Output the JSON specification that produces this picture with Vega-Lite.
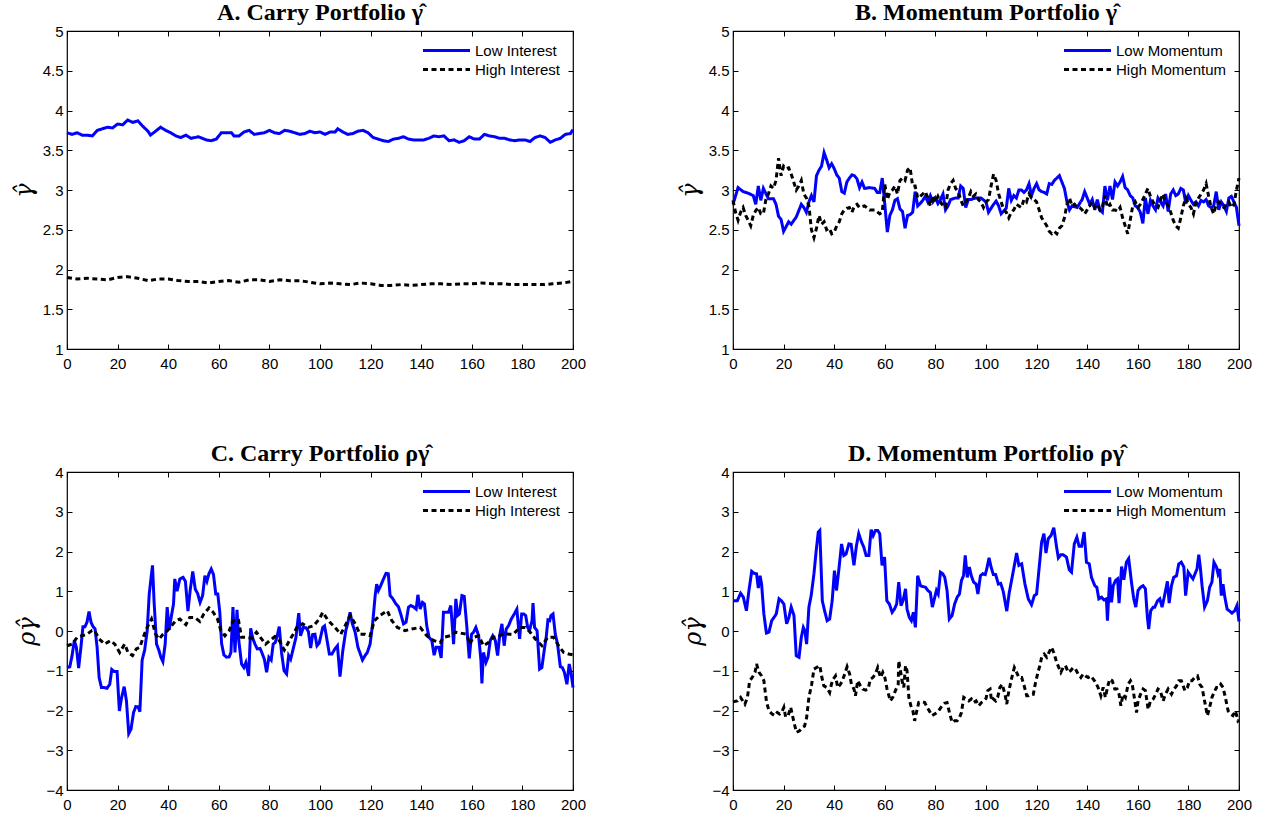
{
"$schema": "https://vega.github.io/schema/vega-lite/v6.json",
"background": "white",
"padding": {"left": 11, "top": 0, "right": 5, "bottom": 5},
"config": {
  "view": {"stroke": "black", "strokeWidth": 1.2},
  "axis": {"labelFont": "Liberation Sans", "labelFontSize": 15, "labelColor": "black", "tickColor": "black", "tickSize": -5, "tickWidth": 1, "domain": false, "grid": false, "labelFlush": false, "labelOverlap": false},
  "axisX": {"labelPadding": 12},
  "axisY": {"labelPadding": 9},
  "title": {"font": "Liberation Serif", "fontSize": 24, "fontWeight": "bold", "color": "black", "offset": -1, "anchor": "middle"},
  "legend": {"orient": "top-right", "offset": 12, "padding": 0, "labelFont": "Liberation Sans", "labelFontSize": 15, "labelColor": "black", "symbolType": "M-4.7,0L4.7,0", "symbolSize": 100, "symbolStrokeWidth": 3, "labelOffset": 21, "rowPadding": 3}
},
"columns": 2,
"spacing": {"row": 123, "column": 160},
"bounds": "flush",
"resolve": {"scale": {"color": "independent", "strokeDash": "independent"}, "legend": {"color": "independent", "strokeDash": "independent"}},
"datasets": {
"A": [
{"s":"L","x":0,"y":3.72},{"s":"L","x":2,"y":3.70},{"s":"L","x":4,"y":3.72},{"s":"L","x":6,"y":3.69},{"s":"L","x":8,"y":3.69},{"s":"L","x":10,"y":3.68},{"s":"L","x":12,"y":3.75},{"s":"L","x":14,"y":3.77},{"s":"L","x":16,"y":3.79},{"s":"L","x":18,"y":3.78},{"s":"L","x":20,"y":3.83},{"s":"L","x":22,"y":3.82},{"s":"L","x":24,"y":3.88},{"s":"L","x":26,"y":3.85},{"s":"L","x":28,"y":3.87},{"s":"L","x":30,"y":3.80},{"s":"L","x":32,"y":3.74},{"s":"L","x":33,"y":3.69},{"s":"L","x":35,"y":3.74},{"s":"L","x":37,"y":3.79},{"s":"L","x":39,"y":3.75},{"s":"L","x":41,"y":3.72},{"s":"L","x":43,"y":3.68},{"s":"L","x":45,"y":3.66},{"s":"L","x":47,"y":3.69},{"s":"L","x":49,"y":3.65},{"s":"L","x":52,"y":3.67},{"s":"L","x":55,"y":3.63},{"s":"L","x":57,"y":3.62},{"s":"L","x":59,"y":3.64},{"s":"L","x":61,"y":3.72},{"s":"L","x":63,"y":3.72},{"s":"L","x":65,"y":3.72},{"s":"L","x":66,"y":3.68},{"s":"L","x":68,"y":3.68},{"s":"L","x":70,"y":3.73},{"s":"L","x":72,"y":3.75},{"s":"L","x":74,"y":3.70},{"s":"L","x":76,"y":3.71},{"s":"L","x":78,"y":3.72},{"s":"L","x":80,"y":3.75},{"s":"L","x":82,"y":3.72},{"s":"L","x":84,"y":3.71},{"s":"L","x":86,"y":3.75},{"s":"L","x":88,"y":3.74},{"s":"L","x":90,"y":3.72},{"s":"L","x":92,"y":3.70},{"s":"L","x":94,"y":3.71},{"s":"L","x":96,"y":3.74},{"s":"L","x":98,"y":3.72},{"s":"L","x":100,"y":3.73},{"s":"L","x":102,"y":3.70},{"s":"L","x":104,"y":3.73},{"s":"L","x":106,"y":3.73},{"s":"L","x":107,"y":3.77},{"s":"L","x":109,"y":3.73},{"s":"L","x":111,"y":3.70},{"s":"L","x":113,"y":3.71},{"s":"L","x":115,"y":3.74},{"s":"L","x":117,"y":3.75},{"s":"L","x":119,"y":3.72},{"s":"L","x":121,"y":3.66},{"s":"L","x":123,"y":3.64},{"s":"L","x":125,"y":3.62},{"s":"L","x":127,"y":3.61},{"s":"L","x":129,"y":3.64},{"s":"L","x":131,"y":3.65},{"s":"L","x":133,"y":3.67},{"s":"L","x":135,"y":3.64},{"s":"L","x":137,"y":3.63},{"s":"L","x":139,"y":3.63},{"s":"L","x":141,"y":3.63},{"s":"L","x":143,"y":3.65},{"s":"L","x":145,"y":3.68},{"s":"L","x":147,"y":3.67},{"s":"L","x":149,"y":3.68},{"s":"L","x":151,"y":3.62},{"s":"L","x":153,"y":3.63},{"s":"L","x":155,"y":3.60},{"s":"L","x":157,"y":3.62},{"s":"L","x":159,"y":3.67},{"s":"L","x":161,"y":3.64},{"s":"L","x":163,"y":3.64},{"s":"L","x":165,"y":3.70},{"s":"L","x":167,"y":3.68},{"s":"L","x":169,"y":3.67},{"s":"L","x":171,"y":3.65},{"s":"L","x":173,"y":3.65},{"s":"L","x":175,"y":3.63},{"s":"L","x":177,"y":3.62},{"s":"L","x":179,"y":3.63},{"s":"L","x":181,"y":3.63},{"s":"L","x":183,"y":3.61},{"s":"L","x":185,"y":3.66},{"s":"L","x":187,"y":3.68},{"s":"L","x":189,"y":3.66},{"s":"L","x":191,"y":3.60},{"s":"L","x":193,"y":3.63},{"s":"L","x":195,"y":3.65},{"s":"L","x":197,"y":3.70},{"s":"L","x":199,"y":3.71},{"s":"L","x":200,"y":3.76},
{"s":"H","x":0,"y":1.90},{"s":"H","x":4,"y":1.88},{"s":"H","x":8,"y":1.89},{"s":"H","x":12,"y":1.88},{"s":"H","x":16,"y":1.87},{"s":"H","x":20,"y":1.90},{"s":"H","x":24,"y":1.91},{"s":"H","x":28,"y":1.89},{"s":"H","x":32,"y":1.86},{"s":"H","x":36,"y":1.88},{"s":"H","x":40,"y":1.88},{"s":"H","x":44,"y":1.86},{"s":"H","x":48,"y":1.85},{"s":"H","x":52,"y":1.85},{"s":"H","x":56,"y":1.83},{"s":"H","x":60,"y":1.85},{"s":"H","x":64,"y":1.86},{"s":"H","x":68,"y":1.84},{"s":"H","x":72,"y":1.87},{"s":"H","x":76,"y":1.87},{"s":"H","x":80,"y":1.85},{"s":"H","x":84,"y":1.87},{"s":"H","x":88,"y":1.86},{"s":"H","x":92,"y":1.86},{"s":"H","x":96,"y":1.84},{"s":"H","x":100,"y":1.82},{"s":"H","x":104,"y":1.83},{"s":"H","x":108,"y":1.82},{"s":"H","x":112,"y":1.81},{"s":"H","x":116,"y":1.83},{"s":"H","x":120,"y":1.82},{"s":"H","x":124,"y":1.80},{"s":"H","x":128,"y":1.80},{"s":"H","x":132,"y":1.81},{"s":"H","x":136,"y":1.80},{"s":"H","x":140,"y":1.81},{"s":"H","x":144,"y":1.82},{"s":"H","x":148,"y":1.82},{"s":"H","x":152,"y":1.81},{"s":"H","x":156,"y":1.82},{"s":"H","x":160,"y":1.82},{"s":"H","x":164,"y":1.83},{"s":"H","x":168,"y":1.82},{"s":"H","x":172,"y":1.82},{"s":"H","x":176,"y":1.81},{"s":"H","x":180,"y":1.81},{"s":"H","x":184,"y":1.81},{"s":"H","x":188,"y":1.81},{"s":"H","x":192,"y":1.82},{"s":"H","x":196,"y":1.83},{"s":"H","x":200,"y":1.85}
],
"B": [
{"s":"L","x":0,"y":2.82},{"s":"L","x":2,"y":3.03},{"s":"L","x":4,"y":2.98},{"s":"L","x":6,"y":2.96},{"s":"L","x":8,"y":2.93},{"s":"L","x":9,"y":2.82},{"s":"L","x":10,"y":3.05},{"s":"L","x":11,"y":2.87},{"s":"L","x":12,"y":3.02},{"s":"L","x":14,"y":2.89},{"s":"L","x":16,"y":2.89},{"s":"L","x":17,"y":2.82},{"s":"L","x":18,"y":2.67},{"s":"L","x":19,"y":2.63},{"s":"L","x":20,"y":2.48},{"s":"L","x":22,"y":2.60},{"s":"L","x":23,"y":2.57},{"s":"L","x":25,"y":2.66},{"s":"L","x":26,"y":2.74},{"s":"L","x":27,"y":2.82},{"s":"L","x":28,"y":2.78},{"s":"L","x":29,"y":2.72},{"s":"L","x":30,"y":2.85},{"s":"L","x":31,"y":2.93},{"s":"L","x":32,"y":2.85},{"s":"L","x":33,"y":3.18},{"s":"L","x":34,"y":3.25},{"s":"L","x":35,"y":3.30},{"s":"L","x":36,"y":3.47},{"s":"L","x":37,"y":3.38},{"s":"L","x":38,"y":3.28},{"s":"L","x":39,"y":3.33},{"s":"L","x":40,"y":3.27},{"s":"L","x":41,"y":3.19},{"s":"L","x":42,"y":3.15},{"s":"L","x":43,"y":2.98},{"s":"L","x":44,"y":2.96},{"s":"L","x":45,"y":3.10},{"s":"L","x":46,"y":3.15},{"s":"L","x":47,"y":3.19},{"s":"L","x":48,"y":3.18},{"s":"L","x":49,"y":3.14},{"s":"L","x":50,"y":3.03},{"s":"L","x":51,"y":3.10},{"s":"L","x":52,"y":3.02},{"s":"L","x":54,"y":3.03},{"s":"L","x":56,"y":3.02},{"s":"L","x":57,"y":2.97},{"s":"L","x":58,"y":2.97},{"s":"L","x":59,"y":3.15},{"s":"L","x":60,"y":2.82},{"s":"L","x":61,"y":2.47},{"s":"L","x":62,"y":2.68},{"s":"L","x":63,"y":2.75},{"s":"L","x":64,"y":2.87},{"s":"L","x":65,"y":2.89},{"s":"L","x":66,"y":2.76},{"s":"L","x":67,"y":2.73},{"s":"L","x":68,"y":2.52},{"s":"L","x":69,"y":2.68},{"s":"L","x":70,"y":2.69},{"s":"L","x":71,"y":2.72},{"s":"L","x":72,"y":2.98},{"s":"L","x":73,"y":2.80},{"s":"L","x":74,"y":2.83},{"s":"L","x":75,"y":2.87},{"s":"L","x":76,"y":2.92},{"s":"L","x":77,"y":2.85},{"s":"L","x":78,"y":2.93},{"s":"L","x":79,"y":2.85},{"s":"L","x":80,"y":2.90},{"s":"L","x":81,"y":2.83},{"s":"L","x":82,"y":2.88},{"s":"L","x":83,"y":2.95},{"s":"L","x":84,"y":2.75},{"s":"L","x":85,"y":2.80},{"s":"L","x":86,"y":2.88},{"s":"L","x":88,"y":2.90},{"s":"L","x":89,"y":2.90},{"s":"L","x":90,"y":3.05},{"s":"L","x":91,"y":3.02},{"s":"L","x":92,"y":2.78},{"s":"L","x":93,"y":2.88},{"s":"L","x":94,"y":2.88},{"s":"L","x":96,"y":2.90},{"s":"L","x":98,"y":2.90},{"s":"L","x":100,"y":2.85},{"s":"L","x":101,"y":2.72},{"s":"L","x":103,"y":2.82},{"s":"L","x":104,"y":2.86},{"s":"L","x":105,"y":2.80},{"s":"L","x":106,"y":2.70},{"s":"L","x":108,"y":2.77},{"s":"L","x":109,"y":3.02},{"s":"L","x":110,"y":2.87},{"s":"L","x":111,"y":2.93},{"s":"L","x":112,"y":2.90},{"s":"L","x":113,"y":3.00},{"s":"L","x":114,"y":3.00},{"s":"L","x":115,"y":2.97},{"s":"L","x":116,"y":3.00},{"s":"L","x":117,"y":3.08},{"s":"L","x":118,"y":2.93},{"s":"L","x":119,"y":3.02},{"s":"L","x":120,"y":3.08},{"s":"L","x":121,"y":3.00},{"s":"L","x":122,"y":2.98},{"s":"L","x":123,"y":2.97},{"s":"L","x":124,"y":2.95},{"s":"L","x":125,"y":3.08},{"s":"L","x":126,"y":3.07},{"s":"L","x":127,"y":3.12},{"s":"L","x":128,"y":3.15},{"s":"L","x":129,"y":3.18},{"s":"L","x":130,"y":3.10},{"s":"L","x":131,"y":3.02},{"s":"L","x":132,"y":2.85},{"s":"L","x":133,"y":2.75},{"s":"L","x":134,"y":2.80},{"s":"L","x":136,"y":2.78},{"s":"L","x":138,"y":2.88},{"s":"L","x":139,"y":2.98},{"s":"L","x":140,"y":2.90},{"s":"L","x":141,"y":2.82},{"s":"L","x":142,"y":2.88},{"s":"L","x":143,"y":2.75},{"s":"L","x":144,"y":2.88},{"s":"L","x":145,"y":2.75},{"s":"L","x":146,"y":2.72},{"s":"L","x":147,"y":3.05},{"s":"L","x":148,"y":2.87},{"s":"L","x":149,"y":3.05},{"s":"L","x":150,"y":2.88},{"s":"L","x":151,"y":3.10},{"s":"L","x":152,"y":3.05},{"s":"L","x":153,"y":3.10},{"s":"L","x":154,"y":3.17},{"s":"L","x":155,"y":3.03},{"s":"L","x":156,"y":3.00},{"s":"L","x":157,"y":2.93},{"s":"L","x":158,"y":2.90},{"s":"L","x":159,"y":2.80},{"s":"L","x":160,"y":2.78},{"s":"L","x":161,"y":2.72},{"s":"L","x":162,"y":2.58},{"s":"L","x":163,"y":2.90},{"s":"L","x":164,"y":2.70},{"s":"L","x":165,"y":2.87},{"s":"L","x":166,"y":2.80},{"s":"L","x":167,"y":2.75},{"s":"L","x":168,"y":2.90},{"s":"L","x":169,"y":2.85},{"s":"L","x":170,"y":2.80},{"s":"L","x":171,"y":2.95},{"s":"L","x":172,"y":2.73},{"s":"L","x":173,"y":2.95},{"s":"L","x":174,"y":3.00},{"s":"L","x":175,"y":2.93},{"s":"L","x":176,"y":2.95},{"s":"L","x":177,"y":3.02},{"s":"L","x":178,"y":3.00},{"s":"L","x":179,"y":2.83},{"s":"L","x":180,"y":2.93},{"s":"L","x":181,"y":2.87},{"s":"L","x":182,"y":2.82},{"s":"L","x":183,"y":2.85},{"s":"L","x":184,"y":2.80},{"s":"L","x":185,"y":2.87},{"s":"L","x":186,"y":2.85},{"s":"L","x":187,"y":2.88},{"s":"L","x":188,"y":2.80},{"s":"L","x":189,"y":2.78},{"s":"L","x":190,"y":2.80},{"s":"L","x":191,"y":2.98},{"s":"L","x":192,"y":2.75},{"s":"L","x":193,"y":2.85},{"s":"L","x":194,"y":2.80},{"s":"L","x":195,"y":2.73},{"s":"L","x":196,"y":2.90},{"s":"L","x":197,"y":2.92},{"s":"L","x":198,"y":2.85},{"s":"L","x":199,"y":2.78},{"s":"L","x":200,"y":2.55},
{"s":"H","x":0,"y":2.87},{"s":"H","x":1,"y":2.72},{"s":"H","x":2,"y":2.62},{"s":"H","x":3,"y":2.72},{"s":"H","x":4,"y":2.78},{"s":"H","x":5,"y":2.68},{"s":"H","x":6,"y":2.62},{"s":"H","x":7,"y":2.55},{"s":"H","x":8,"y":2.68},{"s":"H","x":9,"y":2.74},{"s":"H","x":10,"y":2.78},{"s":"H","x":11,"y":2.70},{"s":"H","x":12,"y":2.70},{"s":"H","x":13,"y":2.88},{"s":"H","x":14,"y":2.95},{"s":"H","x":15,"y":3.05},{"s":"H","x":16,"y":3.02},{"s":"H","x":17,"y":3.12},{"s":"H","x":18,"y":3.40},{"s":"H","x":19,"y":3.18},{"s":"H","x":20,"y":3.30},{"s":"H","x":21,"y":3.27},{"s":"H","x":22,"y":3.28},{"s":"H","x":23,"y":3.20},{"s":"H","x":24,"y":3.10},{"s":"H","x":25,"y":3.00},{"s":"H","x":26,"y":3.05},{"s":"H","x":27,"y":3.12},{"s":"H","x":28,"y":2.95},{"s":"H","x":29,"y":2.90},{"s":"H","x":30,"y":2.80},{"s":"H","x":31,"y":2.50},{"s":"H","x":32,"y":2.40},{"s":"H","x":33,"y":2.52},{"s":"H","x":34,"y":2.68},{"s":"H","x":35,"y":2.57},{"s":"H","x":36,"y":2.60},{"s":"H","x":37,"y":2.50},{"s":"H","x":38,"y":2.52},{"s":"H","x":39,"y":2.45},{"s":"H","x":40,"y":2.47},{"s":"H","x":41,"y":2.55},{"s":"H","x":42,"y":2.60},{"s":"H","x":43,"y":2.70},{"s":"H","x":44,"y":2.75},{"s":"H","x":45,"y":2.77},{"s":"H","x":46,"y":2.78},{"s":"H","x":47,"y":2.72},{"s":"H","x":48,"y":2.80},{"s":"H","x":49,"y":2.82},{"s":"H","x":50,"y":2.78},{"s":"H","x":52,"y":2.80},{"s":"H","x":54,"y":2.75},{"s":"H","x":56,"y":2.75},{"s":"H","x":58,"y":2.70},{"s":"H","x":59,"y":2.72},{"s":"H","x":60,"y":3.07},{"s":"H","x":61,"y":2.88},{"s":"H","x":62,"y":2.97},{"s":"H","x":63,"y":3.00},{"s":"H","x":64,"y":3.05},{"s":"H","x":65,"y":2.95},{"s":"H","x":66,"y":3.12},{"s":"H","x":67,"y":3.15},{"s":"H","x":68,"y":3.12},{"s":"H","x":69,"y":3.25},{"s":"H","x":70,"y":3.28},{"s":"H","x":71,"y":3.05},{"s":"H","x":72,"y":3.05},{"s":"H","x":73,"y":2.90},{"s":"H","x":74,"y":2.92},{"s":"H","x":75,"y":2.95},{"s":"H","x":76,"y":2.98},{"s":"H","x":77,"y":2.90},{"s":"H","x":78,"y":2.80},{"s":"H","x":79,"y":2.93},{"s":"H","x":80,"y":2.85},{"s":"H","x":81,"y":2.92},{"s":"H","x":82,"y":2.85},{"s":"H","x":83,"y":2.80},{"s":"H","x":84,"y":2.78},{"s":"H","x":85,"y":3.00},{"s":"H","x":86,"y":3.08},{"s":"H","x":87,"y":3.12},{"s":"H","x":88,"y":3.02},{"s":"H","x":89,"y":2.98},{"s":"H","x":90,"y":2.88},{"s":"H","x":91,"y":2.80},{"s":"H","x":92,"y":2.85},{"s":"H","x":93,"y":2.90},{"s":"H","x":94,"y":2.98},{"s":"H","x":95,"y":2.92},{"s":"H","x":96,"y":2.95},{"s":"H","x":97,"y":2.88},{"s":"H","x":98,"y":2.85},{"s":"H","x":99,"y":2.78},{"s":"H","x":100,"y":2.85},{"s":"H","x":101,"y":2.88},{"s":"H","x":102,"y":3.05},{"s":"H","x":103,"y":3.20},{"s":"H","x":104,"y":3.12},{"s":"H","x":105,"y":2.95},{"s":"H","x":106,"y":2.85},{"s":"H","x":107,"y":2.75},{"s":"H","x":108,"y":2.72},{"s":"H","x":109,"y":2.65},{"s":"H","x":110,"y":2.72},{"s":"H","x":111,"y":2.75},{"s":"H","x":112,"y":2.82},{"s":"H","x":113,"y":2.80},{"s":"H","x":114,"y":2.78},{"s":"H","x":115,"y":2.88},{"s":"H","x":116,"y":2.85},{"s":"H","x":117,"y":2.95},{"s":"H","x":118,"y":2.90},{"s":"H","x":119,"y":2.88},{"s":"H","x":120,"y":2.85},{"s":"H","x":121,"y":2.75},{"s":"H","x":122,"y":2.65},{"s":"H","x":123,"y":2.60},{"s":"H","x":124,"y":2.55},{"s":"H","x":125,"y":2.48},{"s":"H","x":126,"y":2.45},{"s":"H","x":127,"y":2.48},{"s":"H","x":128,"y":2.45},{"s":"H","x":129,"y":2.52},{"s":"H","x":130,"y":2.55},{"s":"H","x":131,"y":2.65},{"s":"H","x":132,"y":2.82},{"s":"H","x":133,"y":2.90},{"s":"H","x":134,"y":2.80},{"s":"H","x":135,"y":2.82},{"s":"H","x":136,"y":2.78},{"s":"H","x":137,"y":2.78},{"s":"H","x":138,"y":2.75},{"s":"H","x":139,"y":2.70},{"s":"H","x":140,"y":2.75},{"s":"H","x":141,"y":2.80},{"s":"H","x":142,"y":2.85},{"s":"H","x":143,"y":2.78},{"s":"H","x":144,"y":2.82},{"s":"H","x":145,"y":2.75},{"s":"H","x":146,"y":2.78},{"s":"H","x":147,"y":2.93},{"s":"H","x":148,"y":2.78},{"s":"H","x":149,"y":2.82},{"s":"H","x":150,"y":2.75},{"s":"H","x":151,"y":2.75},{"s":"H","x":152,"y":2.73},{"s":"H","x":153,"y":2.78},{"s":"H","x":154,"y":2.65},{"s":"H","x":155,"y":2.55},{"s":"H","x":156,"y":2.45},{"s":"H","x":157,"y":2.62},{"s":"H","x":158,"y":2.80},{"s":"H","x":159,"y":2.85},{"s":"H","x":160,"y":2.78},{"s":"H","x":161,"y":2.82},{"s":"H","x":162,"y":2.88},{"s":"H","x":163,"y":2.95},{"s":"H","x":164,"y":3.02},{"s":"H","x":165,"y":2.92},{"s":"H","x":166,"y":2.85},{"s":"H","x":167,"y":2.80},{"s":"H","x":168,"y":2.78},{"s":"H","x":169,"y":2.88},{"s":"H","x":170,"y":2.95},{"s":"H","x":171,"y":2.85},{"s":"H","x":172,"y":2.80},{"s":"H","x":173,"y":2.72},{"s":"H","x":174,"y":2.62},{"s":"H","x":175,"y":2.55},{"s":"H","x":176,"y":2.52},{"s":"H","x":177,"y":2.65},{"s":"H","x":178,"y":2.80},{"s":"H","x":179,"y":2.90},{"s":"H","x":180,"y":2.82},{"s":"H","x":181,"y":2.78},{"s":"H","x":182,"y":2.70},{"s":"H","x":183,"y":2.85},{"s":"H","x":184,"y":2.90},{"s":"H","x":185,"y":2.95},{"s":"H","x":186,"y":3.00},{"s":"H","x":187,"y":3.08},{"s":"H","x":188,"y":2.92},{"s":"H","x":189,"y":2.78},{"s":"H","x":190,"y":2.70},{"s":"H","x":191,"y":2.82},{"s":"H","x":192,"y":2.85},{"s":"H","x":193,"y":2.80},{"s":"H","x":194,"y":2.78},{"s":"H","x":195,"y":2.82},{"s":"H","x":196,"y":2.85},{"s":"H","x":197,"y":2.78},{"s":"H","x":198,"y":2.82},{"s":"H","x":199,"y":3.00},{"s":"H","x":200,"y":3.15}
],
"C": [
{"s":"L","x":0,"y":-0.92},{"s":"L","x":1.1,"y":-0.90},{"s":"L","x":2,"y":-0.62},{"s":"L","x":2.9,"y":-0.24},{"s":"L","x":3.7,"y":-0.41},{"s":"L","x":4.6,"y":-0.93},{"s":"L","x":5.5,"y":-0.41},{"s":"L","x":6.3,"y":0.11},{"s":"L","x":7.1,"y":0.11},{"s":"L","x":7.9,"y":0.22},{"s":"L","x":8.7,"y":0.49},{"s":"L","x":9.5,"y":0.22},{"s":"L","x":10.3,"y":0.11},{"s":"L","x":11.1,"y":0.05},{"s":"L","x":11.9,"y":-0.41},{"s":"L","x":12.7,"y":-1.17},{"s":"L","x":13.6,"y":-1.42},{"s":"L","x":14.6,"y":-1.42},{"s":"L","x":15.8,"y":-1.44},{"s":"L","x":16.9,"y":-1.34},{"s":"L","x":17.7,"y":-0.97},{"s":"L","x":18.6,"y":-1.02},{"s":"L","x":19.8,"y":-1.02},{"s":"L","x":20.7,"y":-2.01},{"s":"L","x":21.6,"y":-1.67},{"s":"L","x":22.6,"y":-1.40},{"s":"L","x":23.5,"y":-1.76},{"s":"L","x":24.4,"y":-2.58},{"s":"L","x":25.3,"y":-2.47},{"s":"L","x":26.3,"y":-2.05},{"s":"L","x":27.2,"y":-1.90},{"s":"L","x":28.1,"y":-1.91},{"s":"L","x":28.8,"y":-2.03},{"s":"L","x":29.7,"y":-0.73},{"s":"L","x":30.7,"y":-0.48},{"s":"L","x":31.7,"y":0.01},{"s":"L","x":32.5,"y":0.93},{"s":"L","x":33.1,"y":1.27},{"s":"L","x":33.8,"y":1.65},{"s":"L","x":34.4,"y":0.76},{"s":"L","x":35.4,"y":-0.33},{"s":"L","x":36.3,"y":-0.48},{"s":"L","x":37.1,"y":-0.66},{"s":"L","x":37.9,"y":-0.77},{"s":"L","x":38.8,"y":-0.33},{"s":"L","x":39.6,"y":0.60},{"s":"L","x":40.4,"y":0.03},{"s":"L","x":41.3,"y":0.39},{"s":"L","x":42.1,"y":0.68},{"s":"L","x":42.6,"y":1.31},{"s":"L","x":43.5,"y":1.00},{"s":"L","x":44.6,"y":1.31},{"s":"L","x":45.9,"y":1.35},{"s":"L","x":46.8,"y":1.25},{"s":"L","x":47.8,"y":0.50},{"s":"L","x":48.7,"y":1.03},{"s":"L","x":49.7,"y":1.50},{"s":"L","x":50.7,"y":1.05},{"s":"L","x":51.6,"y":0.95},{"s":"L","x":52.6,"y":0.72},{"s":"L","x":53.6,"y":0.89},{"s":"L","x":54.5,"y":1.39},{"s":"L","x":55.3,"y":1.25},{"s":"L","x":56.1,"y":1.44},{"s":"L","x":57.0,"y":1.56},{"s":"L","x":57.9,"y":1.42},{"s":"L","x":58.8,"y":0.93},{"s":"L","x":59.6,"y":0.93},{"s":"L","x":60.4,"y":0.47},{"s":"L","x":61.1,"y":-0.31},{"s":"L","x":62.0,"y":-0.60},{"s":"L","x":63.1,"y":-0.66},{"s":"L","x":64.1,"y":-0.65},{"s":"L","x":64.8,"y":-0.54},{"s":"L","x":65.6,"y":0.60},{"s":"L","x":66.4,"y":-0.54},{"s":"L","x":67.2,"y":0.53},{"s":"L","x":67.9,"y":-0.24},{"s":"L","x":69.0,"y":-0.83},{"s":"L","x":69.9,"y":-0.92},{"s":"L","x":70.7,"y":-0.79},{"s":"L","x":71.8,"y":-1.13},{"s":"L","x":72.6,"y":0.07},{"s":"L","x":73.4,"y":-0.18},{"s":"L","x":74.3,"y":-0.33},{"s":"L","x":75.2,"y":-0.45},{"s":"L","x":76.3,"y":-0.44},{"s":"L","x":77.0,"y":-0.54},{"s":"L","x":78.0,"y":-0.71},{"s":"L","x":78.9,"y":-1.04},{"s":"L","x":79.8,"y":-0.66},{"s":"L","x":80.7,"y":-0.73},{"s":"L","x":81.5,"y":-0.33},{"s":"L","x":82.3,"y":-0.29},{"s":"L","x":83.1,"y":-0.12},{"s":"L","x":83.9,"y":0.11},{"s":"L","x":84.8,"y":-0.54},{"s":"L","x":85.8,"y":-1.00},{"s":"L","x":86.8,"y":-1.08},{"s":"L","x":87.6,"y":-0.62},{"s":"L","x":88.4,"y":-0.71},{"s":"L","x":89.4,"y":-0.45},{"s":"L","x":90.5,"y":-0.16},{"s":"L","x":91.6,"y":0.45},{"s":"L","x":92.3,"y":-0.12},{"s":"L","x":93.4,"y":0.09},{"s":"L","x":94.5,"y":0.08},{"s":"L","x":95.4,"y":-0.01},{"s":"L","x":96.3,"y":-0.43},{"s":"L","x":97.1,"y":-0.09},{"s":"L","x":98.0,"y":-0.08},{"s":"L","x":98.8,"y":-0.37},{"s":"L","x":99.7,"y":-0.30},{"s":"L","x":101.1,"y":0.09},{"s":"L","x":101.8,"y":0.13},{"s":"L","x":102.6,"y":-0.16},{"s":"L","x":103.7,"y":-0.58},{"s":"L","x":104.7,"y":-0.58},{"s":"L","x":105.9,"y":-0.45},{"s":"L","x":106.9,"y":-0.37},{"s":"L","x":107.9,"y":-1.15},{"s":"L","x":109.0,"y":-0.50},{"s":"L","x":110.2,"y":0.01},{"s":"L","x":110.9,"y":0.18},{"s":"L","x":111.9,"y":0.47},{"s":"L","x":112.8,"y":0.18},{"s":"L","x":113.9,"y":-0.03},{"s":"L","x":115.0,"y":-0.41},{"s":"L","x":116.8,"y":-0.73},{"s":"L","x":117.8,"y":-0.62},{"s":"L","x":118.7,"y":-0.54},{"s":"L","x":119.8,"y":-0.33},{"s":"L","x":120.8,"y":0.18},{"s":"L","x":121.8,"y":0.89},{"s":"L","x":122.4,"y":1.18},{"s":"L","x":123.1,"y":1.02},{"s":"L","x":124.0,"y":1.14},{"s":"L","x":125.1,"y":1.31},{"s":"L","x":126.1,"y":1.45},{"s":"L","x":127.0,"y":1.44},{"s":"L","x":127.7,"y":0.89},{"s":"L","x":128.8,"y":0.81},{"s":"L","x":129.8,"y":0.70},{"s":"L","x":131.0,"y":0.61},{"s":"L","x":131.9,"y":0.43},{"s":"L","x":133.0,"y":0.18},{"s":"L","x":134.0,"y":0.22},{"s":"L","x":135.0,"y":0.60},{"s":"L","x":135.9,"y":0.64},{"s":"L","x":136.9,"y":0.61},{"s":"L","x":138.0,"y":0.55},{"s":"L","x":138.7,"y":0.91},{"s":"L","x":139.6,"y":0.55},{"s":"L","x":140.5,"y":0.72},{"s":"L","x":141.3,"y":0.68},{"s":"L","x":142.2,"y":0.13},{"s":"L","x":143.1,"y":-0.16},{"s":"L","x":144.2,"y":-0.24},{"s":"L","x":145.1,"y":-0.61},{"s":"L","x":145.9,"y":-0.41},{"s":"L","x":147.0,"y":-0.41},{"s":"L","x":147.9,"y":-0.68},{"s":"L","x":148.8,"y":0.47},{"s":"L","x":149.9,"y":0.47},{"s":"L","x":150.8,"y":0.47},{"s":"L","x":151.7,"y":0.64},{"s":"L","x":152.8,"y":-0.33},{"s":"L","x":153.7,"y":0.81},{"s":"L","x":154.4,"y":0.39},{"s":"L","x":155.1,"y":0.43},{"s":"L","x":156.1,"y":0.89},{"s":"L","x":157.0,"y":0.87},{"s":"L","x":158.0,"y":0.13},{"s":"L","x":159.0,"y":-0.69},{"s":"L","x":159.9,"y":-0.08},{"s":"L","x":160.7,"y":-0.03},{"s":"L","x":161.6,"y":0.09},{"s":"L","x":162.7,"y":-0.12},{"s":"L","x":163.6,"y":-0.73},{"s":"L","x":164.0,"y":-1.32},{"s":"L","x":164.6,"y":-0.54},{"s":"L","x":165.6,"y":-0.79},{"s":"L","x":166.4,"y":-0.66},{"s":"L","x":167.3,"y":-0.24},{"s":"L","x":168.3,"y":-0.12},{"s":"L","x":169.3,"y":-0.24},{"s":"L","x":170.2,"y":-0.62},{"s":"L","x":171.0,"y":-0.12},{"s":"L","x":171.9,"y":0.18},{"s":"L","x":172.8,"y":-0.37},{"s":"L","x":173.6,"y":0.05},{"s":"L","x":174.5,"y":0.13},{"s":"L","x":175.6,"y":0.30},{"s":"L","x":176.8,"y":0.43},{"s":"L","x":177.8,"y":0.55},{"s":"L","x":178.9,"y":-0.20},{"s":"L","x":179.7,"y":0.43},{"s":"L","x":180.5,"y":0.43},{"s":"L","x":181.3,"y":0.39},{"s":"L","x":182.1,"y":0.09},{"s":"L","x":182.8,"y":0.01},{"s":"L","x":183.8,"y":0.26},{"s":"L","x":184.2,"y":0.70},{"s":"L","x":184.8,"y":0.09},{"s":"L","x":185.8,"y":0.01},{"s":"L","x":186.8,"y":-0.96},{"s":"L","x":187.7,"y":-0.92},{"s":"L","x":188.7,"y":-0.45},{"s":"L","x":189.4,"y":-0.16},{"s":"L","x":190.1,"y":0.28},{"s":"L","x":190.8,"y":0.26},{"s":"L","x":191.3,"y":0.39},{"s":"L","x":192.1,"y":0.43},{"s":"L","x":193.0,"y":-0.08},{"s":"L","x":193.9,"y":-0.33},{"s":"L","x":195.0,"y":-0.90},{"s":"L","x":195.8,"y":-0.92},{"s":"L","x":196.6,"y":-1.04},{"s":"L","x":197.6,"y":-1.34},{"s":"L","x":198.5,"y":-0.83},{"s":"L","x":199.3,"y":-1.08},{"s":"L","x":200,"y":-1.42},
{"s":"H","x":0,"y":-0.37},{"s":"H","x":2,"y":-0.33},{"s":"H","x":4,"y":-0.16},{"s":"H","x":5.9,"y":-0.12},{"s":"H","x":7.9,"y":-0.08},{"s":"H","x":9.9,"y":0.01},{"s":"H","x":10.9,"y":0.01},{"s":"H","x":12.7,"y":-0.20},{"s":"H","x":14.9,"y":-0.33},{"s":"H","x":17.2,"y":-0.24},{"s":"H","x":18.9,"y":-0.33},{"s":"H","x":20.8,"y":-0.54},{"s":"H","x":22.8,"y":-0.33},{"s":"H","x":24.1,"y":-0.54},{"s":"H","x":25.9,"y":-0.62},{"s":"H","x":27.4,"y":-0.45},{"s":"H","x":28.8,"y":-0.41},{"s":"H","x":30.1,"y":-0.16},{"s":"H","x":31.7,"y":0.09},{"s":"H","x":33.4,"y":0.30},{"s":"H","x":35.0,"y":-0.08},{"s":"H","x":36.4,"y":-0.20},{"s":"H","x":38.0,"y":-0.08},{"s":"H","x":39.7,"y":0.01},{"s":"H","x":41.3,"y":0.13},{"s":"H","x":43.0,"y":0.26},{"s":"H","x":44.6,"y":0.30},{"s":"H","x":47.0,"y":0.16},{"s":"H","x":48.5,"y":0.34},{"s":"H","x":50.5,"y":0.34},{"s":"H","x":52.5,"y":0.24},{"s":"H","x":54.1,"y":0.43},{"s":"H","x":56.1,"y":0.58},{"s":"H","x":57.8,"y":0.47},{"s":"H","x":59.5,"y":0.30},{"s":"H","x":60.8,"y":0.01},{"s":"H","x":62.4,"y":-0.12},{"s":"H","x":64.1,"y":0.01},{"s":"H","x":65.7,"y":0.26},{"s":"H","x":67.7,"y":0.30},{"s":"H","x":69.0,"y":-0.16},{"s":"H","x":71.0,"y":-0.16},{"s":"H","x":73.0,"y":-0.18},{"s":"H","x":74.9,"y":-0.03},{"s":"H","x":76.9,"y":-0.20},{"s":"H","x":78.5,"y":-0.33},{"s":"H","x":80.2,"y":-0.24},{"s":"H","x":82.2,"y":-0.14},{"s":"H","x":83.9,"y":-0.24},{"s":"H","x":85.9,"y":-0.48},{"s":"H","x":87.9,"y":-0.24},{"s":"H","x":89.4,"y":-0.08},{"s":"H","x":91.0,"y":0.11},{"s":"H","x":93.1,"y":0.18},{"s":"H","x":95.4,"y":0.09},{"s":"H","x":97.4,"y":0.13},{"s":"H","x":99.7,"y":0.30},{"s":"H","x":101.1,"y":0.47},{"s":"H","x":103.3,"y":0.26},{"s":"H","x":105.9,"y":0.09},{"s":"H","x":108.2,"y":-0.08},{"s":"H","x":109.9,"y":0.13},{"s":"H","x":111.9,"y":0.39},{"s":"H","x":113.9,"y":0.18},{"s":"H","x":115.8,"y":-0.08},{"s":"H","x":117.8,"y":-0.08},{"s":"H","x":119.8,"y":-0.12},{"s":"H","x":121.5,"y":0.26},{"s":"H","x":123.7,"y":0.39},{"s":"H","x":126.6,"y":0.51},{"s":"H","x":128.4,"y":0.26},{"s":"H","x":130.6,"y":0.09},{"s":"H","x":133.6,"y":0.01},{"s":"H","x":136.3,"y":0.05},{"s":"H","x":139.6,"y":0.09},{"s":"H","x":142.2,"y":-0.12},{"s":"H","x":144.9,"y":-0.24},{"s":"H","x":147.5,"y":-0.29},{"s":"H","x":148.8,"y":-0.16},{"s":"H","x":151.5,"y":-0.12},{"s":"H","x":153.4,"y":-0.03},{"s":"H","x":156.1,"y":-0.06},{"s":"H","x":158.0,"y":-0.08},{"s":"H","x":159.1,"y":-0.33},{"s":"H","x":160.7,"y":-0.16},{"s":"H","x":162.7,"y":-0.12},{"s":"H","x":164.6,"y":-0.37},{"s":"H","x":166.6,"y":-0.29},{"s":"H","x":168.3,"y":-0.16},{"s":"H","x":170.6,"y":-0.14},{"s":"H","x":172.6,"y":-0.06},{"s":"H","x":174.5,"y":-0.08},{"s":"H","x":176.5,"y":-0.08},{"s":"H","x":178.9,"y":0.09},{"s":"H","x":181.1,"y":0.09},{"s":"H","x":183.1,"y":-0.03},{"s":"H","x":185.1,"y":-0.20},{"s":"H","x":187.7,"y":-0.37},{"s":"H","x":190.0,"y":-0.16},{"s":"H","x":192.3,"y":-0.16},{"s":"H","x":194.3,"y":-0.37},{"s":"H","x":196.3,"y":-0.54},{"s":"H","x":198.3,"y":-0.58},{"s":"H","x":200,"y":-0.60}
],
"D": [
{"s":"L","x":0,"y":0.76},{"s":"L","x":1.7,"y":0.76},{"s":"L","x":3.0,"y":0.95},{"s":"L","x":4.1,"y":0.85},{"s":"L","x":5.3,"y":0.51},{"s":"L","x":6.3,"y":1.02},{"s":"L","x":7.4,"y":1.50},{"s":"L","x":8.3,"y":1.45},{"s":"L","x":9.3,"y":1.44},{"s":"L","x":10.0,"y":1.08},{"s":"L","x":10.7,"y":1.39},{"s":"L","x":11.3,"y":1.18},{"s":"L","x":12.2,"y":0.43},{"s":"L","x":13.2,"y":-0.05},{"s":"L","x":14.2,"y":-0.03},{"s":"L","x":15.3,"y":0.26},{"s":"L","x":16.2,"y":0.34},{"s":"L","x":17.1,"y":0.43},{"s":"L","x":18.2,"y":0.81},{"s":"L","x":19.1,"y":0.76},{"s":"L","x":20.1,"y":0.68},{"s":"L","x":21.2,"y":0.18},{"s":"L","x":22.1,"y":0.34},{"s":"L","x":23.0,"y":0.60},{"s":"L","x":24.1,"y":0.39},{"s":"L","x":25.0,"y":-0.62},{"s":"L","x":26.1,"y":-0.66},{"s":"L","x":27.0,"y":-0.16},{"s":"L","x":27.8,"y":0.09},{"s":"L","x":28.4,"y":0.01},{"s":"L","x":29.1,"y":-0.33},{"s":"L","x":30.0,"y":0.60},{"s":"L","x":30.9,"y":0.89},{"s":"L","x":32.0,"y":1.44},{"s":"L","x":32.9,"y":2.03},{"s":"L","x":33.7,"y":2.49},{"s":"L","x":34.3,"y":2.53},{"s":"L","x":35.3,"y":0.76},{"s":"L","x":36.2,"y":0.51},{"s":"L","x":37.2,"y":0.26},{"s":"L","x":38.2,"y":0.30},{"s":"L","x":39.2,"y":0.76},{"s":"L","x":40.1,"y":1.52},{"s":"L","x":40.9,"y":1.02},{"s":"L","x":41.8,"y":1.52},{"s":"L","x":42.9,"y":2.19},{"s":"L","x":43.8,"y":1.90},{"s":"L","x":44.7,"y":1.94},{"s":"L","x":45.8,"y":2.19},{"s":"L","x":46.7,"y":2.18},{"s":"L","x":47.8,"y":1.65},{"s":"L","x":48.8,"y":2.15},{"s":"L","x":49.7,"y":2.45},{"s":"L","x":50.8,"y":2.24},{"s":"L","x":51.7,"y":2.11},{"s":"L","x":52.6,"y":1.90},{"s":"L","x":53.7,"y":1.90},{"s":"L","x":54.6,"y":2.55},{"s":"L","x":55.4,"y":2.40},{"s":"L","x":56.3,"y":2.53},{"s":"L","x":57.2,"y":2.53},{"s":"L","x":58.0,"y":2.45},{"s":"L","x":58.9,"y":1.65},{"s":"L","x":59.9,"y":1.86},{"s":"L","x":60.8,"y":0.76},{"s":"L","x":61.8,"y":0.68},{"s":"L","x":62.9,"y":0.47},{"s":"L","x":63.8,"y":0.55},{"s":"L","x":64.7,"y":0.68},{"s":"L","x":65.5,"y":1.23},{"s":"L","x":66.4,"y":0.64},{"s":"L","x":67.2,"y":0.76},{"s":"L","x":68.2,"y":1.06},{"s":"L","x":68.8,"y":0.55},{"s":"L","x":69.7,"y":0.34},{"s":"L","x":70.5,"y":0.26},{"s":"L","x":71.3,"y":0.47},{"s":"L","x":72.1,"y":0.09},{"s":"L","x":73.0,"y":1.39},{"s":"L","x":74.1,"y":1.14},{"s":"L","x":75.0,"y":1.12},{"s":"L","x":76.1,"y":1.10},{"s":"L","x":77.0,"y":1.02},{"s":"L","x":78.0,"y":0.97},{"s":"L","x":78.8,"y":0.60},{"s":"L","x":79.6,"y":0.81},{"s":"L","x":80.4,"y":1.02},{"s":"L","x":81.1,"y":0.93},{"s":"L","x":82.0,"y":1.48},{"s":"L","x":82.9,"y":1.44},{"s":"L","x":83.7,"y":1.35},{"s":"L","x":84.6,"y":1.02},{"s":"L","x":85.5,"y":0.30},{"s":"L","x":86.6,"y":0.39},{"s":"L","x":87.6,"y":0.68},{"s":"L","x":88.6,"y":0.85},{"s":"L","x":89.5,"y":0.93},{"s":"L","x":90.3,"y":1.27},{"s":"L","x":91.1,"y":1.39},{"s":"L","x":91.8,"y":1.90},{"s":"L","x":92.6,"y":1.35},{"s":"L","x":93.4,"y":1.61},{"s":"L","x":94.2,"y":1.39},{"s":"L","x":95.1,"y":1.23},{"s":"L","x":96.1,"y":1.18},{"s":"L","x":96.8,"y":0.93},{"s":"L","x":97.8,"y":1.39},{"s":"L","x":98.7,"y":1.44},{"s":"L","x":99.7,"y":1.42},{"s":"L","x":100.3,"y":1.56},{"s":"L","x":101.2,"y":1.84},{"s":"L","x":102.0,"y":1.61},{"s":"L","x":102.9,"y":1.42},{"s":"L","x":103.8,"y":1.42},{"s":"L","x":104.9,"y":1.18},{"s":"L","x":105.8,"y":1.20},{"s":"L","x":106.8,"y":1.00},{"s":"L","x":108.2,"y":0.50},{"s":"L","x":109.2,"y":0.97},{"s":"L","x":110.1,"y":1.27},{"s":"L","x":111.1,"y":1.61},{"s":"L","x":112.1,"y":1.96},{"s":"L","x":113.0,"y":1.65},{"s":"L","x":114.1,"y":1.69},{"s":"L","x":115.4,"y":1.18},{"s":"L","x":116.7,"y":0.81},{"s":"L","x":118.0,"y":0.66},{"s":"L","x":119.1,"y":0.89},{"s":"L","x":120.0,"y":0.93},{"s":"L","x":120.9,"y":1.52},{"s":"L","x":122.0,"y":2.24},{"s":"L","x":122.9,"y":2.45},{"s":"L","x":123.7,"y":1.96},{"s":"L","x":124.6,"y":2.32},{"s":"L","x":125.7,"y":2.40},{"s":"L","x":126.8,"y":2.60},{"s":"L","x":127.9,"y":2.11},{"s":"L","x":128.6,"y":1.84},{"s":"L","x":129.6,"y":1.92},{"s":"L","x":130.5,"y":1.92},{"s":"L","x":131.8,"y":1.86},{"s":"L","x":132.9,"y":1.54},{"s":"L","x":133.8,"y":1.48},{"s":"L","x":134.9,"y":2.19},{"s":"L","x":135.9,"y":2.36},{"s":"L","x":136.8,"y":2.13},{"s":"L","x":137.8,"y":2.13},{"s":"L","x":138.8,"y":2.49},{"s":"L","x":139.7,"y":1.73},{"s":"L","x":140.8,"y":1.69},{"s":"L","x":141.7,"y":1.35},{"s":"L","x":143.0,"y":1.14},{"s":"L","x":143.8,"y":1.10},{"s":"L","x":144.6,"y":0.81},{"s":"L","x":145.7,"y":0.85},{"s":"L","x":146.7,"y":0.78},{"s":"L","x":147.6,"y":0.81},{"s":"L","x":148.0,"y":0.26},{"s":"L","x":148.9,"y":1.35},{"s":"L","x":149.6,"y":0.72},{"s":"L","x":150.3,"y":1.14},{"s":"L","x":151.2,"y":1.27},{"s":"L","x":152.0,"y":1.31},{"s":"L","x":152.6,"y":0.70},{"s":"L","x":153.6,"y":1.62},{"s":"L","x":154.5,"y":1.29},{"s":"L","x":155.5,"y":1.73},{"s":"L","x":156.4,"y":1.82},{"s":"L","x":157.5,"y":1.23},{"s":"L","x":158.4,"y":0.81},{"s":"L","x":159.2,"y":0.60},{"s":"L","x":160.1,"y":1.02},{"s":"L","x":161.1,"y":1.10},{"s":"L","x":162.1,"y":1.14},{"s":"L","x":163.0,"y":1.06},{"s":"L","x":163.8,"y":0.34},{"s":"L","x":164.3,"y":0.05},{"s":"L","x":165.1,"y":0.51},{"s":"L","x":166.1,"y":0.60},{"s":"L","x":166.7,"y":0.60},{"s":"L","x":167.8,"y":0.76},{"s":"L","x":168.7,"y":0.81},{"s":"L","x":169.6,"y":0.60},{"s":"L","x":170.7,"y":0.93},{"s":"L","x":171.7,"y":1.25},{"s":"L","x":172.4,"y":0.70},{"s":"L","x":173.3,"y":1.14},{"s":"L","x":174.2,"y":1.35},{"s":"L","x":175.3,"y":1.39},{"s":"L","x":176.2,"y":1.69},{"s":"L","x":177.2,"y":1.73},{"s":"L","x":178.2,"y":1.61},{"s":"L","x":178.9,"y":0.89},{"s":"L","x":179.9,"y":1.48},{"s":"L","x":180.9,"y":1.39},{"s":"L","x":181.8,"y":1.31},{"s":"L","x":182.5,"y":1.42},{"s":"L","x":183.4,"y":1.56},{"s":"L","x":184.1,"y":1.92},{"s":"L","x":184.7,"y":1.61},{"s":"L","x":185.4,"y":1.14},{"s":"L","x":186.4,"y":0.60},{"s":"L","x":187.5,"y":0.76},{"s":"L","x":188.4,"y":1.10},{"s":"L","x":189.3,"y":1.23},{"s":"L","x":190.1,"y":1.73},{"s":"L","x":191.1,"y":1.61},{"s":"L","x":191.7,"y":1.44},{"s":"L","x":192.4,"y":1.56},{"s":"L","x":193.0,"y":0.89},{"s":"L","x":193.7,"y":1.18},{"s":"L","x":194.3,"y":0.89},{"s":"L","x":195.3,"y":0.55},{"s":"L","x":196.3,"y":0.50},{"s":"L","x":197.2,"y":0.45},{"s":"L","x":198.3,"y":0.51},{"s":"L","x":199.2,"y":0.64},{"s":"L","x":200,"y":0.24},
{"s":"H","x":0,"y":-1.78},{"s":"H","x":1.7,"y":-1.76},{"s":"H","x":3.0,"y":-1.67},{"s":"H","x":3.9,"y":-1.76},{"s":"H","x":4.7,"y":-1.84},{"s":"H","x":5.7,"y":-1.67},{"s":"H","x":6.6,"y":-1.25},{"s":"H","x":7.6,"y":-1.17},{"s":"H","x":8.7,"y":-1.04},{"s":"H","x":9.3,"y":-0.83},{"s":"H","x":10.3,"y":-1.04},{"s":"H","x":11.3,"y":-1.13},{"s":"H","x":12.2,"y":-1.25},{"s":"H","x":13.2,"y":-1.76},{"s":"H","x":14.2,"y":-2.01},{"s":"H","x":15.5,"y":-2.09},{"s":"H","x":16.6,"y":-2.13},{"s":"H","x":17.5,"y":-2.05},{"s":"H","x":18.4,"y":-2.09},{"s":"H","x":19.5,"y":-2.01},{"s":"H","x":20.1,"y":-1.92},{"s":"H","x":20.8,"y":-2.16},{"s":"H","x":21.8,"y":-2.13},{"s":"H","x":22.8,"y":-1.92},{"s":"H","x":23.4,"y":-2.09},{"s":"H","x":24.1,"y":-2.30},{"s":"H","x":25.1,"y":-2.55},{"s":"H","x":26.3,"y":-2.51},{"s":"H","x":27.4,"y":-2.43},{"s":"H","x":28.3,"y":-2.39},{"s":"H","x":29.1,"y":-2.18},{"s":"H","x":30.0,"y":-1.67},{"s":"H","x":31.1,"y":-1.34},{"s":"H","x":32.0,"y":-0.96},{"s":"H","x":33.0,"y":-0.92},{"s":"H","x":34.3,"y":-0.87},{"s":"H","x":35.0,"y":-1.13},{"s":"H","x":35.9,"y":-1.38},{"s":"H","x":37.0,"y":-1.42},{"s":"H","x":38.2,"y":-1.55},{"s":"H","x":38.9,"y":-1.34},{"s":"H","x":39.6,"y":-1.21},{"s":"H","x":40.5,"y":-1.13},{"s":"H","x":41.4,"y":-1.42},{"s":"H","x":42.5,"y":-1.34},{"s":"H","x":43.2,"y":-1.25},{"s":"H","x":44.2,"y":-1.08},{"s":"H","x":45.1,"y":-0.90},{"s":"H","x":46.1,"y":-1.08},{"s":"H","x":46.8,"y":-1.34},{"s":"H","x":47.8,"y":-1.46},{"s":"H","x":48.4,"y":-1.63},{"s":"H","x":49.3,"y":-1.25},{"s":"H","x":50.4,"y":-1.38},{"s":"H","x":51.3,"y":-1.46},{"s":"H","x":52.4,"y":-1.49},{"s":"H","x":53.4,"y":-1.46},{"s":"H","x":54.3,"y":-1.21},{"s":"H","x":55.3,"y":-1.17},{"s":"H","x":56.3,"y":-1.08},{"s":"H","x":57.2,"y":-0.92},{"s":"H","x":58.3,"y":-1.17},{"s":"H","x":59.2,"y":-1.04},{"s":"H","x":60.0,"y":-1.17},{"s":"H","x":60.9,"y":-1.46},{"s":"H","x":62.2,"y":-1.76},{"s":"H","x":63.2,"y":-1.66},{"s":"H","x":64.2,"y":-1.50},{"s":"H","x":65.3,"y":-1.34},{"s":"H","x":65.5,"y":-0.75},{"s":"H","x":66.3,"y":-1.04},{"s":"H","x":66.8,"y":-1.25},{"s":"H","x":67.5,"y":-1.42},{"s":"H","x":68.2,"y":-0.87},{"s":"H","x":68.8,"y":-1.00},{"s":"H","x":69.5,"y":-1.67},{"s":"H","x":70.3,"y":-1.88},{"s":"H","x":71.1,"y":-2.01},{"s":"H","x":71.8,"y":-2.26},{"s":"H","x":72.5,"y":-2.05},{"s":"H","x":73.4,"y":-1.80},{"s":"H","x":74.7,"y":-1.78},{"s":"H","x":75.8,"y":-1.80},{"s":"H","x":76.7,"y":-1.92},{"s":"H","x":77.6,"y":-2.01},{"s":"H","x":78.7,"y":-2.13},{"s":"H","x":79.7,"y":-2.09},{"s":"H","x":80.7,"y":-2.05},{"s":"H","x":81.7,"y":-1.97},{"s":"H","x":82.6,"y":-1.88},{"s":"H","x":83.6,"y":-1.82},{"s":"H","x":84.6,"y":-1.80},{"s":"H","x":85.7,"y":-2.09},{"s":"H","x":86.6,"y":-2.30},{"s":"H","x":87.6,"y":-2.26},{"s":"H","x":88.6,"y":-2.26},{"s":"H","x":89.5,"y":-2.18},{"s":"H","x":90.3,"y":-2.05},{"s":"H","x":91.2,"y":-1.67},{"s":"H","x":92.1,"y":-1.71},{"s":"H","x":93.2,"y":-1.76},{"s":"H","x":94.2,"y":-1.71},{"s":"H","x":95.1,"y":-1.80},{"s":"H","x":96.1,"y":-1.76},{"s":"H","x":97.1,"y":-1.88},{"s":"H","x":98.2,"y":-1.80},{"s":"H","x":99.1,"y":-1.76},{"s":"H","x":100.0,"y":-1.70},{"s":"H","x":100.7,"y":-1.50},{"s":"H","x":101.6,"y":-1.46},{"s":"H","x":102.2,"y":-1.76},{"s":"H","x":102.9,"y":-1.71},{"s":"H","x":103.8,"y":-1.76},{"s":"H","x":104.6,"y":-1.67},{"s":"H","x":105.5,"y":-1.42},{"s":"H","x":106.4,"y":-1.34},{"s":"H","x":107.5,"y":-1.59},{"s":"H","x":108.2,"y":-1.84},{"s":"H","x":108.8,"y":-1.59},{"s":"H","x":109.9,"y":-1.25},{"s":"H","x":111.2,"y":-0.92},{"s":"H","x":112.1,"y":-1.04},{"s":"H","x":113.0,"y":-1.17},{"s":"H","x":114.1,"y":-1.17},{"s":"H","x":115.1,"y":-1.38},{"s":"H","x":116.1,"y":-1.63},{"s":"H","x":116.7,"y":-1.63},{"s":"H","x":117.8,"y":-1.59},{"s":"H","x":118.7,"y":-1.59},{"s":"H","x":119.6,"y":-1.29},{"s":"H","x":120.7,"y":-1.00},{"s":"H","x":121.3,"y":-0.87},{"s":"H","x":122.0,"y":-0.66},{"s":"H","x":123.0,"y":-0.58},{"s":"H","x":124.0,"y":-0.66},{"s":"H","x":124.9,"y":-0.54},{"s":"H","x":125.9,"y":-0.41},{"s":"H","x":127.0,"y":-0.58},{"s":"H","x":127.9,"y":-0.79},{"s":"H","x":128.8,"y":-0.92},{"s":"H","x":129.6,"y":-1.04},{"s":"H","x":130.5,"y":-0.92},{"s":"H","x":131.4,"y":-0.87},{"s":"H","x":132.5,"y":-1.04},{"s":"H","x":133.4,"y":-1.00},{"s":"H","x":134.5,"y":-0.92},{"s":"H","x":135.4,"y":-0.96},{"s":"H","x":136.4,"y":-1.08},{"s":"H","x":137.5,"y":-1.17},{"s":"H","x":138.4,"y":-1.08},{"s":"H","x":139.3,"y":-1.13},{"s":"H","x":140.4,"y":-1.17},{"s":"H","x":141.4,"y":-1.13},{"s":"H","x":142.4,"y":-1.21},{"s":"H","x":143.3,"y":-1.29},{"s":"H","x":144.3,"y":-1.42},{"s":"H","x":145.4,"y":-1.63},{"s":"H","x":146.3,"y":-1.42},{"s":"H","x":147.2,"y":-1.67},{"s":"H","x":148.0,"y":-1.42},{"s":"H","x":148.9,"y":-1.21},{"s":"H","x":149.9,"y":-1.25},{"s":"H","x":150.9,"y":-1.46},{"s":"H","x":151.8,"y":-1.46},{"s":"H","x":152.6,"y":-1.59},{"s":"H","x":153.3,"y":-1.88},{"s":"H","x":154.2,"y":-1.59},{"s":"H","x":155.1,"y":-1.67},{"s":"H","x":156.2,"y":-1.34},{"s":"H","x":157.1,"y":-1.25},{"s":"H","x":157.8,"y":-1.34},{"s":"H","x":158.6,"y":-1.67},{"s":"H","x":159.5,"y":-2.05},{"s":"H","x":160.1,"y":-1.76},{"s":"H","x":161.1,"y":-1.59},{"s":"H","x":162.1,"y":-1.46},{"s":"H","x":163.0,"y":-1.50},{"s":"H","x":164.1,"y":-1.97},{"s":"H","x":165.0,"y":-1.76},{"s":"H","x":166.1,"y":-1.71},{"s":"H","x":167.1,"y":-1.59},{"s":"H","x":168.0,"y":-1.46},{"s":"H","x":168.9,"y":-1.50},{"s":"H","x":170.0,"y":-1.76},{"s":"H","x":170.9,"y":-1.59},{"s":"H","x":172.0,"y":-1.46},{"s":"H","x":173.3,"y":-1.59},{"s":"H","x":174.3,"y":-1.46},{"s":"H","x":175.3,"y":-1.38},{"s":"H","x":176.2,"y":-1.25},{"s":"H","x":177.2,"y":-1.25},{"s":"H","x":178.6,"y":-1.50},{"s":"H","x":179.6,"y":-1.42},{"s":"H","x":180.5,"y":-1.25},{"s":"H","x":181.4,"y":-1.25},{"s":"H","x":182.5,"y":-1.17},{"s":"H","x":183.6,"y":-1.13},{"s":"H","x":184.5,"y":-1.34},{"s":"H","x":185.4,"y":-1.42},{"s":"H","x":186.4,"y":-1.76},{"s":"H","x":187.5,"y":-2.13},{"s":"H","x":188.4,"y":-1.92},{"s":"H","x":189.3,"y":-1.67},{"s":"H","x":190.1,"y":-1.55},{"s":"H","x":191.1,"y":-1.42},{"s":"H","x":192.0,"y":-1.42},{"s":"H","x":192.8,"y":-1.34},{"s":"H","x":193.7,"y":-1.42},{"s":"H","x":194.6,"y":-1.67},{"s":"H","x":195.7,"y":-2.01},{"s":"H","x":196.7,"y":-2.09},{"s":"H","x":197.6,"y":-2.13},{"s":"H","x":198.6,"y":-2.01},{"s":"H","x":199.6,"y":-2.26},{"s":"H","x":200,"y":-2.24}
]
},
"concat": [
{
  "width": 506, "height": 318,
  "title": "A. Carry Portfolio γ\u0302",
  "data": {"name": "A"},
  "layer": [
    {"mark": {"type": "line", "strokeWidth": 3},
     "encoding": {
       "x": {"field": "x", "type": "quantitative", "scale": {"domain": [0, 200], "nice": false, "zero": false}, "axis": {"values": [0,20,40,60,80,100,120,140,160,180,200], "title": null, "format": "d"}},
       "y": {"field": "y", "type": "quantitative", "scale": {"domain": [1, 5], "nice": false, "zero": false}, "axis": {"values": [1,1.5,2,2.5,3,3.5,4,4.5,5], "format": "~g", "title": "γ\u0302", "titleFont": "DejaVu Serif", "titleFontStyle": "italic", "titleFontWeight": "normal", "titleFontSize": 24, "titlePadding": 6, "titleColor": "black"}},
       "color": {"field": "s", "type": "nominal", "scale": {"domain": ["L", "H"], "range": ["#0000ff", "#000000"]}, "legend": {"title": null, "labelExpr": "datum.value == 'L' ? 'Low Interest' : 'High Interest'"}},
       "strokeDash": {"field": "s", "type": "nominal", "scale": {"domain": ["L", "H"], "range": [[1, 0], [5, 3.5]]}, "legend": {"title": null, "labelExpr": "datum.value == 'L' ? 'Low Interest' : 'High Interest'"}}
     }},
    {"mark": {"type": "line", "opacity": 0},
     "encoding": {
       "x": {"field": "x", "type": "quantitative", "axis": {"orient": "top", "values": [0,20,40,60,80,100,120,140,160,180,200], "labels": false, "title": null}},
       "y": {"field": "y", "type": "quantitative", "axis": {"orient": "right", "values": [1,1.5,2,2.5,3,3.5,4,4.5,5], "labels": false, "title": null}},
       "detail": {"field": "s"}
     }}
  ],
  "resolve": {"axis": {"x": "independent", "y": "independent"}}
},
{
  "width": 506, "height": 318,
  "title": "B. Momentum Portfolio γ\u0302",
  "data": {"name": "B"},
  "layer": [
    {"mark": {"type": "line", "strokeWidth": 3},
     "encoding": {
       "x": {"field": "x", "type": "quantitative", "scale": {"domain": [0, 200], "nice": false, "zero": false}, "axis": {"values": [0,20,40,60,80,100,120,140,160,180,200], "title": null, "format": "d"}},
       "y": {"field": "y", "type": "quantitative", "scale": {"domain": [1, 5], "nice": false, "zero": false}, "axis": {"values": [1,1.5,2,2.5,3,3.5,4,4.5,5], "format": "~g", "title": "γ\u0302", "titleFont": "DejaVu Serif", "titleFontStyle": "italic", "titleFontWeight": "normal", "titleFontSize": 24, "titlePadding": 6, "titleColor": "black"}},
       "color": {"field": "s", "type": "nominal", "scale": {"domain": ["L", "H"], "range": ["#0000ff", "#000000"]}, "legend": {"title": null, "labelExpr": "datum.value == 'L' ? 'Low Momentum' : 'High Momentum'"}},
       "strokeDash": {"field": "s", "type": "nominal", "scale": {"domain": ["L", "H"], "range": [[1, 0], [5, 3.5]]}, "legend": {"title": null, "labelExpr": "datum.value == 'L' ? 'Low Momentum' : 'High Momentum'"}}
     }},
    {"mark": {"type": "line", "opacity": 0},
     "encoding": {
       "x": {"field": "x", "type": "quantitative", "axis": {"orient": "top", "values": [0,20,40,60,80,100,120,140,160,180,200], "labels": false, "title": null}},
       "y": {"field": "y", "type": "quantitative", "axis": {"orient": "right", "values": [1,1.5,2,2.5,3,3.5,4,4.5,5], "labels": false, "title": null}},
       "detail": {"field": "s"}
     }}
  ],
  "resolve": {"axis": {"x": "independent", "y": "independent"}}
},
{
  "width": 506, "height": 318,
  "title": "C. Carry Portfolio ργ\u0302",
  "data": {"name": "C"},
  "layer": [
    {"mark": {"type": "line", "strokeWidth": 3},
     "encoding": {
       "x": {"field": "x", "type": "quantitative", "scale": {"domain": [0, 200], "nice": false, "zero": false}, "axis": {"values": [0,20,40,60,80,100,120,140,160,180,200], "title": null, "format": "d"}},
       "y": {"field": "y", "type": "quantitative", "scale": {"domain": [-4, 4], "nice": false, "zero": false}, "axis": {"values": [-4,-3,-2,-1,0,1,2,3,4], "format": "d", "title": "ργ\u0302", "titleFont": "DejaVu Serif", "titleFontStyle": "italic", "titleFontWeight": "normal", "titleFontSize": 24, "titlePadding": 6, "titleColor": "black"}},
       "color": {"field": "s", "type": "nominal", "scale": {"domain": ["L", "H"], "range": ["#0000ff", "#000000"]}, "legend": {"title": null, "labelExpr": "datum.value == 'L' ? 'Low Interest' : 'High Interest'"}},
       "strokeDash": {"field": "s", "type": "nominal", "scale": {"domain": ["L", "H"], "range": [[1, 0], [5, 3.5]]}, "legend": {"title": null, "labelExpr": "datum.value == 'L' ? 'Low Interest' : 'High Interest'"}}
     }},
    {"mark": {"type": "line", "opacity": 0},
     "encoding": {
       "x": {"field": "x", "type": "quantitative", "axis": {"orient": "top", "values": [0,20,40,60,80,100,120,140,160,180,200], "labels": false, "title": null}},
       "y": {"field": "y", "type": "quantitative", "axis": {"orient": "right", "values": [-4,-3,-2,-1,0,1,2,3,4], "labels": false, "title": null}},
       "detail": {"field": "s"}
     }}
  ],
  "resolve": {"axis": {"x": "independent", "y": "independent"}}
},
{
  "width": 506, "height": 318,
  "title": "D. Momentum Portfolio ργ\u0302",
  "data": {"name": "D"},
  "layer": [
    {"mark": {"type": "line", "strokeWidth": 3},
     "encoding": {
       "x": {"field": "x", "type": "quantitative", "scale": {"domain": [0, 200], "nice": false, "zero": false}, "axis": {"values": [0,20,40,60,80,100,120,140,160,180,200], "title": null, "format": "d"}},
       "y": {"field": "y", "type": "quantitative", "scale": {"domain": [-4, 4], "nice": false, "zero": false}, "axis": {"values": [-4,-3,-2,-1,0,1,2,3,4], "format": "d", "title": "ργ\u0302", "titleFont": "DejaVu Serif", "titleFontStyle": "italic", "titleFontWeight": "normal", "titleFontSize": 24, "titlePadding": 6, "titleColor": "black"}},
       "color": {"field": "s", "type": "nominal", "scale": {"domain": ["L", "H"], "range": ["#0000ff", "#000000"]}, "legend": {"title": null, "labelExpr": "datum.value == 'L' ? 'Low Momentum' : 'High Momentum'"}},
       "strokeDash": {"field": "s", "type": "nominal", "scale": {"domain": ["L", "H"], "range": [[1, 0], [5, 3.5]]}, "legend": {"title": null, "labelExpr": "datum.value == 'L' ? 'Low Momentum' : 'High Momentum'"}}
     }},
    {"mark": {"type": "line", "opacity": 0},
     "encoding": {
       "x": {"field": "x", "type": "quantitative", "axis": {"orient": "top", "values": [0,20,40,60,80,100,120,140,160,180,200], "labels": false, "title": null}},
       "y": {"field": "y", "type": "quantitative", "axis": {"orient": "right", "values": [-4,-3,-2,-1,0,1,2,3,4], "labels": false, "title": null}},
       "detail": {"field": "s"}
     }}
  ],
  "resolve": {"axis": {"x": "independent", "y": "independent"}}
}
]
}
